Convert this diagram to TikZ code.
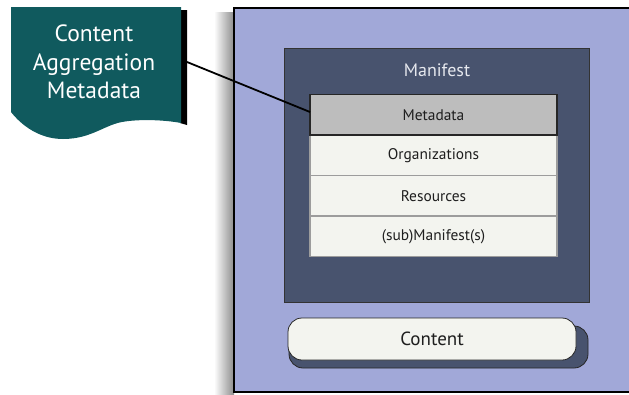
\documentclass[tikz,border=0pt]{standalone}
\usepackage{fontspec}
\setmainfont{PT Sans}
\begin{document}
\begin{tikzpicture}[x=1pt,y=-1pt,
  outerc/.style={fill=outerblue},
  rowbox/.style={draw=rowline, line width=1.2pt, fill=rowfill, minimum width=247pt, minimum height=40.5pt, inner sep=0pt, font=\fontsize{15.4}{18}\selectfont, text=textdark},
  lbl/.style={inner sep=0pt},
]
\definecolor{outerblue}{HTML}{A1A8D8}
\definecolor{slate}{HTML}{48536E}
\definecolor{rowfill}{HTML}{F3F4EF}
\definecolor{rowline}{HTML}{9C9C9C}
\definecolor{metagray}{HTML}{BDBDBD}
\definecolor{teal}{HTML}{105A5E}
\definecolor{textdark}{HTML}{1E1E1E}
\definecolor{mtext}{HTML}{E6E8EE}
\useasboundingbox (0,0) rectangle (629,394);
% outer box shadow
\shade[left color=white, right color=black!45] (214,12) rectangle (234,394);
% outer box
\fill[outerc] (234,8) rectangle (640,392);
\draw[line width=1.5pt, black] (640,8) -- (234,8) -- (234,392) -- (640,392);
% manifest box
\node[draw=black!80, line width=0.8pt, fill=slate, minimum width=305pt, minimum height=253.5pt, inner sep=0pt] (man) at (436.5,175.25) {};
\node[lbl, text=mtext, font=\fontsize{18}{21}\selectfont] (mantitle) at (437,70) {Manifest};
% rows
\node[rowbox] (org) at (433.5,155.3) {Organizations};
\node[rowbox] (res) at (433.5,195.8) {Resources};
\node[rowbox] (sub) at (433.5,236.3) {(sub)Manifest(s)};
\node[rowbox, draw=black!85, fill=metagray] (meta) at (433.5,114.8) {Metadata};
% content with shadow
\fill[slate, draw=black!85, line width=0.8pt, rounded corners=14pt] (289,326) rectangle (588,368);
\node[draw=black!85, line width=0.8pt, fill=rowfill, rounded corners=14pt, minimum width=288pt, minimum height=42pt, inner sep=0pt, font=\fontsize{19}{22}\selectfont, text=textdark] (content) at (432,339) {Content};
% document shape
\fill[black] (180,10) -- (187,10) -- (187,125) -- (180,123) -- cycle;
\fill[teal] (11,7) -- (181,7) -- (181,123)
  .. controls (165,120) and (142,119) .. (125,121.5)
  .. controls (105,124) and (92,139) .. (63,139)
  .. controls (40,139) and (22,126) .. (11,112) -- cycle;
\node[lbl, text=white, align=center, font=\fontsize{23.5}{28.5}\selectfont] (doc) at (94,62) {Content\\Aggregation\\Metadata};
\coordinate (docR) at (187,62);
\coordinate (metaL) at (310,112);
\draw[line width=1.8pt, black] (docR) -- (metaL);
\end{tikzpicture}
\end{document}
